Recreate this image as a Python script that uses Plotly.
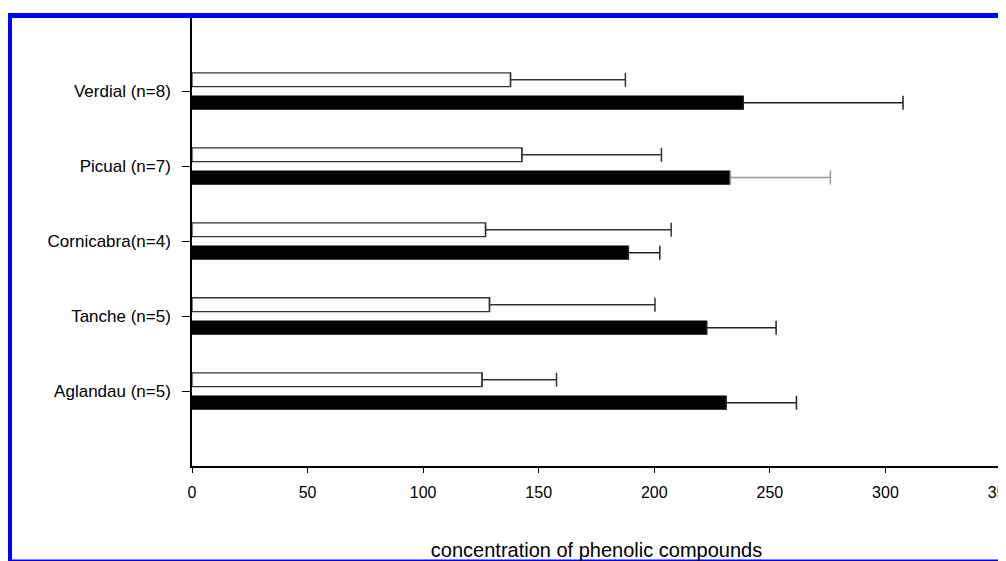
import plotly.graph_objects as go

categories = ["Aglandau (n=5)", "Tanche (n=5)", "Cornicabra(n=4)", "Picual (n=7)", "Verdial (n=8)"]
open_values = [125.5, 128.7, 127.0, 142.7, 137.8]
open_errors = [32.2, 71.6, 80.3, 60.4, 49.7]
filled_values = [231.1, 222.7, 188.8, 232.9, 238.5]
filled_errors = [30.4, 30.0, 13.6, 43.3, 69.1]
x_ticks = [0, 50, 100, 150, 200, 250, 300, 350]
x_title = "concentration of phenolic compounds"
gray_err_category = "Picual (n=7)"

FONT = "Liberation Sans, Arial, sans-serif"

fig = go.Figure()

fig.add_trace(go.Bar(
    y=categories, x=open_values, orientation="h",
    width=0.185, offset=0.058,
    marker=dict(color="white", line=dict(color="#333333", width=1.3)),
    error_x=dict(type="data", array=open_errors, symmetric=False, arrayminus=[0]*5,
                 color="#333333", thickness=1.5, width=7),
    showlegend=False,
))

idx_main = [i for i, c in enumerate(categories) if c != gray_err_category]
idx_gray = [i for i, c in enumerate(categories) if c == gray_err_category]

for idx, ecol in ((idx_main, "#222222"), (idx_gray, "#9a9a9a")):
    fig.add_trace(go.Bar(
        y=[categories[i] for i in idx], x=[filled_values[i] for i in idx], orientation="h",
        width=0.19, offset=-0.25,
        marker=dict(color="black", line=dict(width=0)),
        error_x=dict(type="data", array=[filled_errors[i] for i in idx], symmetric=False,
                     arrayminus=[0]*len(idx), color=ecol, thickness=1.5, width=7),
        showlegend=False,
    ))

# page has an 8px body margin; figure fills the rest of the 1006x561 window
W, H = 998, 553
L, R, T, B = 184, 5, 8, 95
pw, ph = W - L - R, H - T - B

def px_x(p):
    return (p - L) / pw

def px_y(p):
    return (H - B - p) / ph

fig.add_shape(type="rect", xref="paper", yref="paper",
              x0=px_x(1.5), x1=px_x(1010), y0=px_y(554), y1=px_y(7.5),
              line=dict(color="#0000ff", width=5), fillcolor="rgba(0,0,0,0)", layer="above")

fig.update_layout(
    width=W, height=H,
    margin=dict(l=L, r=R, t=T, b=B, autoexpand=False),
    paper_bgcolor="white", plot_bgcolor="white",
    barmode="overlay",
    font=dict(family=FONT, size=16, color="black"),
    xaxis=dict(range=[0, 350], tickvals=x_ticks, ticktext=[str(v) for v in x_ticks],
               showgrid=False, zeroline=False, showline=True, linecolor="black", linewidth=1.5,
               ticks="outside", ticklen=5, tickcolor="black", tickwidth=1,
               ticklabelstandoff=6, ticklabeloverflow="allow",
               tickfont=dict(family=FONT, size=16, color="black"),
               title=dict(text=x_title, font=dict(family=FONT, size=20, color="black"), standoff=46),
               automargin=False, fixedrange=True),
    yaxis=dict(type="category", categoryorder="array", categoryarray=categories,
               range=[-1, 5], showgrid=False, zeroline=False, showline=True, mirror=True,
               linecolor="black", linewidth=1.5,
               ticks="outside", ticklen=8, tickcolor="black", tickwidth=1,
               ticklabelstandoff=8,
               tickfont=dict(family=FONT, size=17, color="black"),
               automargin=False, fixedrange=True),
)

fig.write_html("out.html")
